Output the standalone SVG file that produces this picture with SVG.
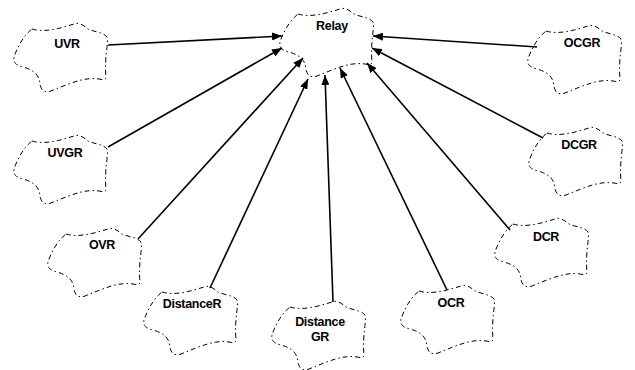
<svg xmlns="http://www.w3.org/2000/svg" xmlns:xlink="http://www.w3.org/1999/xlink" width="635" height="370" viewBox="0 0 635 370">
<style>
.cl{fill:#fff;stroke:#000;stroke-width:1;stroke-dasharray:5 3 1.5 3}
.lb{font-family:"Liberation Sans",Arial,sans-serif;font-weight:bold;font-size:12.5px;fill:#000;text-anchor:middle;letter-spacing:-0.3px}
.cn{stroke:#000;stroke-width:1.6;fill:none;marker-end:url(#ah)}
</style>
<defs>
<path id="cloud" d="M 19,7 C 32,11 48,6 61,2 C 66,0 70,3 75,7 C 81,10 90,10 94,15 C 96,20 91,35 93,55 C 93,58 90,58 86,57 C 72,55 60,60 38,69 C 32,71 28,69 27,62 C 26,55 24,49 10,45 C 2,43 0,40 1,35 C 4,26 10,14 19,7 Z"/>
<marker id="ah" viewBox="0 0 10 8" refX="10" refY="4" markerWidth="10" markerHeight="8" markerUnits="userSpaceOnUse" orient="auto">
<path d="M0,0 L10,4 L0,8 Z" fill="#000"/>
</marker>
</defs>
<rect width="635" height="370" fill="#fff"/>
<g id="relay"><use xlink:href="#cloud" class="cl" transform="translate(279,7)"/><text class="lb" x="332" y="30">Relay</text></g>
<g id="uvr"><use xlink:href="#cloud" class="cl" transform="translate(13,22)"/><text class="lb" x="67" y="48">UVR</text></g>
<g id="uvgr"><use xlink:href="#cloud" class="cl" transform="translate(13,134)"/><text class="lb" x="65" y="157">UVGR</text></g>
<g id="ovr"><use xlink:href="#cloud" class="cl" transform="translate(47,227)"/><text class="lb" x="102" y="249">OVR</text></g>
<g id="distancer"><use xlink:href="#cloud" class="cl" transform="translate(143,285)"/><text class="lb" x="192" y="308">DistanceR</text></g>
<g id="distancegr"><use xlink:href="#cloud" class="cl" transform="translate(271,300)"/><text class="lb" x="320" y="326">Distance</text><text class="lb" x="320" y="341">GR</text></g>
<g id="ocr"><use xlink:href="#cloud" class="cl" transform="translate(400,284)"/><text class="lb" x="451" y="307">OCR</text></g>
<g id="dcr"><use xlink:href="#cloud" class="cl" transform="translate(494,217)"/><text class="lb" x="546" y="241">DCR</text></g>
<g id="dcgr"><use xlink:href="#cloud" class="cl" transform="translate(528,126)"/><text class="lb" x="579" y="149">DCGR</text></g>
<g id="ocgr"><use xlink:href="#cloud" class="cl" transform="translate(527,24)"/><text class="lb" x="582" y="47">OCGR</text></g>
<g id="connectors">
<line class="cn" x1="108" y1="45" x2="282" y2="36"/>
<line class="cn" x1="108" y1="147" x2="282" y2="48"/>
<line class="cn" x1="138" y1="239" x2="303" y2="58"/>
<line class="cn" x1="210" y1="288" x2="308" y2="79"/>
<line class="cn" x1="333" y1="302" x2="325" y2="75"/>
<line class="cn" x1="447" y1="290" x2="340" y2="68"/>
<line class="cn" x1="510" y1="230" x2="367" y2="63"/>
<line class="cn" x1="543" y1="138" x2="372" y2="48"/>
<line class="cn" x1="537" y1="47" x2="373" y2="36"/>
</g>
</svg>
